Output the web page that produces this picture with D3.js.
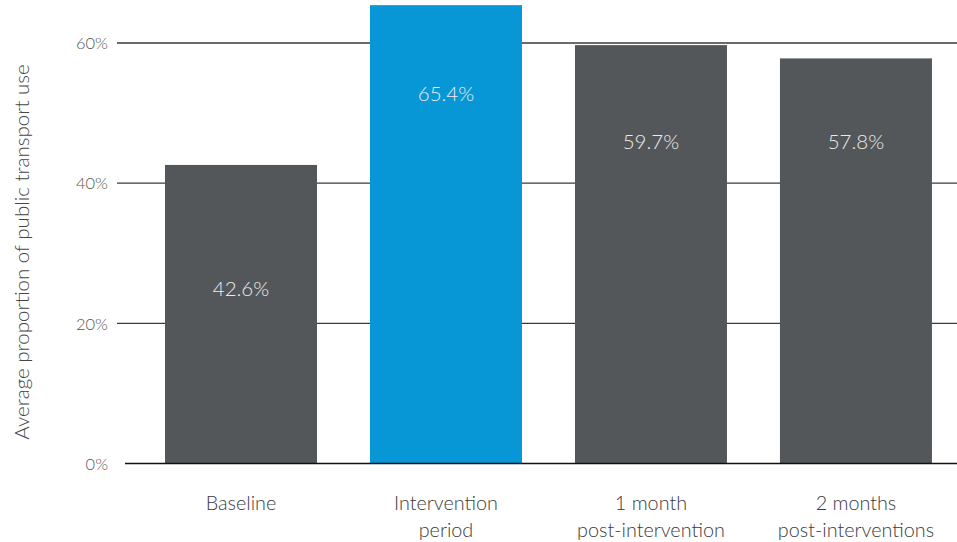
<!DOCTYPE html>
<html>
<head>
<meta charset="utf-8">
<script src="https://cdn.jsdelivr.net/npm/d3@7/dist/d3.min.js"></script>
<style>
  html, body { margin: 0; padding: 0; background: #fff; }
  svg { display: block; font-family: Lato, "Open Sans", sans-serif; font-weight: 300; }
</style>
</head>
<body>
<svg id="chart" width="957" height="542"></svg>
<script>
// Survey periods and the average share of trips made by public transport
const categories = ["Baseline", "Intervention period", "1 month post-intervention", "2 months post-interventions"];
const categoryLines = [["Baseline"], ["Intervention", "period"], ["1 month", "post-intervention"], ["2 months", "post-interventions"]];
const values = [42.6, 65.4, 59.7, 57.8];
const highlight = [false, true, false, false];
const yTicks = [0, 20, 40, 60];
const yTitle = "Average proportion of public transport use";

const svg = d3.select("#chart");
const W = 957, H = 542;

// Vertical placement of each value label, expressed on the y axis
const labelLevel = [24.9, 52.7, 45.9, 45.9];

const y = d3.scaleLinear().domain([0, 60]).range([463.5, 43]);
const x = d3.scaleBand().domain(categories)
  .range([138.35, 958.6]).paddingInner(0.2585).paddingOuter(0.13);

// Gridlines and tick labels
const yAxis = d3.axisLeft(y).tickValues(yTicks).tickFormat(d => d + "%").tickSize(0).tickPadding(9);
const gAxis = svg.append("g").attr("transform", "translate(108,0)").call(yAxis);
gAxis.select(".domain").remove();
gAxis.selectAll("text").attr("fill", "#555").attr("font-size", 16.5).attr("font-family", "Lato, sans-serif").attr("font-weight", 300).attr("x", 0).attr("dy", "0.35em");

svg.append("g").selectAll("line").data(yTicks.filter(d => d > 0)).join("line")
  .attr("x1", 117).attr("x2", W)
  .attr("y1", d => y(d)).attr("y2", d => y(d))
  .attr("stroke", "#3a3a3a").attr("stroke-width", 1.3);

// Bars
svg.append("g").selectAll("rect").data(values).join("rect")
  .attr("x", (d, i) => x(categories[i]))
  .attr("width", x.bandwidth())
  .attr("y", d => y(d))
  .attr("height", d => y(0) - y(d))
  .attr("fill", (d, i) => highlight[i] ? "#0897d6" : "#54575a");

// Baseline
svg.append("line").attr("x1", 125).attr("x2", W)
  .attr("y1", y(0)).attr("y2", y(0))
  .attr("stroke", "#111").attr("stroke-width", 1.5);

// Value labels inside the bars
svg.append("g").selectAll("text").data(values).join("text")
  .attr("x", (d, i) => x(categories[i]) + x.bandwidth() / 2)
  .attr("y", (d, i) => y(labelLevel[i]))
  .attr("dy", "0.35em")
  .attr("text-anchor", "middle")
  .attr("fill", "#ececec")
  .attr("font-size", 20.5)
  .text(d => d.toFixed(1) + "%");

// Category labels
const cat = svg.append("g").selectAll("text").data(categoryLines).join("text")
  .attr("x", (d, i) => x(categories[i]) + x.bandwidth() / 2)
  .attr("y", 510)
  .attr("text-anchor", "middle")
  .attr("fill", "#3a3a3a")
  .attr("font-size", 19.8);
cat.selectAll("tspan").data(d => d).join("tspan")
  .attr("x", function () { return d3.select(this.parentNode).attr("x"); })
  .attr("dy", (d, j) => j === 0 ? 0 : 27)
  .text(d => d);

// Y axis title
svg.append("text")
  .attr("transform", "translate(29,252) rotate(-90)")
  .attr("text-anchor", "middle")
  .attr("fill", "#444")
  .attr("font-size", 20.5)
  .text(yTitle);
</script>
</body>
</html>
